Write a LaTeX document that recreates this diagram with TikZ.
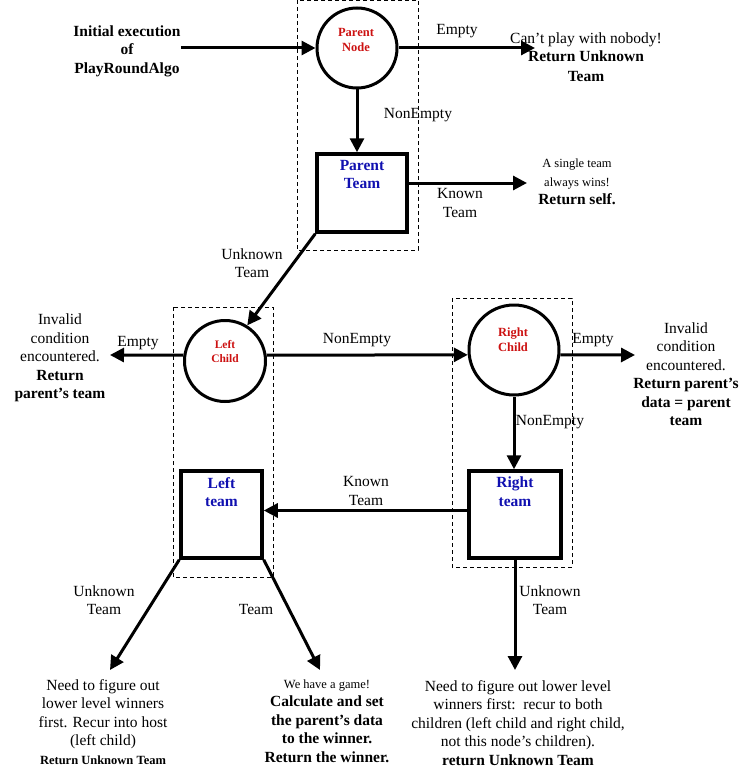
\documentclass[tikz,border=0pt]{standalone}
\usepackage{fontspec}
\setmainfont{Liberation Serif}
\usetikzlibrary{arrows.meta}
\definecolor{lblred}{HTML}{CC1111}
\definecolor{lblblue}{HTML}{1010B0}
\newcommand{\fsN}{\fontsize{15.5}{18.5}\selectfont}
\newcommand{\fsS}{\fontsize{12.5}{15}\selectfont}
\begin{document}
\begin{tikzpicture}[x=1pt,y=-1pt,
  arr/.style={line width=3pt,-{Triangle[length=14pt,width=14pt]}},
  circ/.style={circle,draw,line width=3pt,inner sep=0pt},
  circtxt/.style={align=center,text=lblred,font=\bfseries\fsS,inner sep=0pt},
  teambox/.style={rectangle,draw,line width=3.5pt,inner sep=0pt},
  teamtxt/.style={anchor=north,align=center,text=lblblue,font=\bfseries\fsN,inner sep=0pt},
  grp/.style={dashed,line width=0.8pt,dash pattern=on 4pt off 3pt},
  lbl/.style={align=center,font=\fsN,inner sep=0pt},
  note/.style={align=center,font=\fsN,inner sep=0pt}
]
\useasboundingbox (0,0) rectangle (744,781);
% grouping boxes
\draw[grp] (297,0) rectangle (418,250);
\draw[grp] (173,307) rectangle (273,577);
\draw[grp] (452,298) rectangle (572,567);

% main nodes
\node[circ,minimum size=80pt] (pn) at (357,48) {};
\node[circtxt] (pnl) at (356,40) {Parent\\Node};
\node[teambox,minimum width=90pt,minimum height=78pt] (pt) at (362,193) {};
\node[teamtxt] (ptl) at (362,160) {Parent\\Team};
\node[circ,minimum size=81pt] (lc) at (225,361) {};
\node[circtxt,font=\bfseries\fontsize{11.5}{14}\selectfont] (lcl) at (225,352) {Left\\Child};
\node[circ,minimum size=90pt] (rc) at (514,350) {};
\node[circtxt] (rcl) at (513,340) {Right\\Child};
\node[teambox,minimum width=81pt,minimum height=87pt] (lt) at (221.5,514.5) {};
\node[teamtxt] (ltl) at (221.5,477) {Left\\team};
\node[teambox,minimum width=92pt,minimum height=87pt] (rt) at (515,514.5) {};
\node[teamtxt] (rtl) at (515,477) {Right\\team};

% text notes
\node[note,font=\bfseries\fsN] (init) at (127,51) {Initial execution\\of\\PlayRoundAlgo};
\node[note] (cant) at (586,57) {Can’t play with nobody!\\\textbf{Return Unknown}\\[1.5pt]\textbf{Team}};
\node[note] (single) at (577,182) {{\fsS A single team}\\{\fsS always wins!}\\\textbf{Return self.}};
\node[note] (invl) at (60,358) {Invalid\\condition\\encountered.\\\textbf{Return}\\\textbf{parent’s team}};
\node[note] (invr) at (686,374) {Invalid\\condition\\encountered.\\\textbf{Return parent’s}\\\textbf{data = parent}\\\textbf{team}};
\node[note] (needl) at (103,722) {Need to figure out\\lower level winners\\first. Recur into host\\(left child)\\{\fsS\bfseries Return Unknown Team}};
\node[note] (game) at (327,721) {{\fsS We have a game!}\\\textbf{Calculate and set}\\\textbf{the parent’s data}\\\textbf{to the winner.}\\\textbf{Return the winner.}};
\node[note] (needr) at (518,723) {Need to figure out lower level\\winners first:\ \ recur to both\\children (left child and right child,\\not this node’s children).\\\textbf{return Unknown Team}};

% free ends
\coordinate (e1) at (535,48);
\coordinate (e2) at (527,183);
\coordinate (e3) at (110,355);
\coordinate (e4) at (635,355);
\coordinate (e5) at (110,670);
\coordinate (e6) at (320,670);
\coordinate (e7) at (515,670);

% connectors
\draw[arr] (pn.west -| init.east) -- (pn.west);
\draw[arr] (pn.east) -- (e1);
\draw[arr] (pn.south) -- (pn.south |- pt.north);
\draw[arr] (pt.east |- e2) -- (e2);
\draw[arr] (pt.south west) -- (lc.58);
\draw[arr] (lc.172) -- (e3);
\draw[arr] (lc.8) -- (rc.186);
\draw[arr] (rc.-6) -- (e4);
\draw[arr] (rc.south) -- (rc.south |- rt.north);
\draw[arr] ([yshift=4pt]rt.west) -- ([yshift=4pt]lt.east);
\draw[arr] (lt.south west) -- (e5);
\draw[arr] (lt.south east) -- (e6);
\draw[arr] (rt.south) -- (e7);

% connector labels
\node[lbl] (l1) at (457,31) {Empty};
\node[lbl] (l2) at (418,115) {NonEmpty};
\node[lbl] (l3) at (460,203) {Known\\Team};
\node[lbl] (l4) at (252,263) {Unknown\\Team};
\node[lbl] (l5) at (138,343) {Empty};
\node[lbl] (l6) at (357,340) {NonEmpty};
\node[lbl] (l7) at (593,340) {Empty};
\node[lbl] (l8) at (550,422) {NonEmpty};
\node[lbl] (l9) at (366,491) {Known\\Team};
\node[lbl] (l10) at (104,600) {Unknown\\Team};
\node[lbl] (l11) at (256,609) {Team};
\node[lbl] (l12) at (550,600) {Unknown\\Team};
\end{tikzpicture}
\end{document}
